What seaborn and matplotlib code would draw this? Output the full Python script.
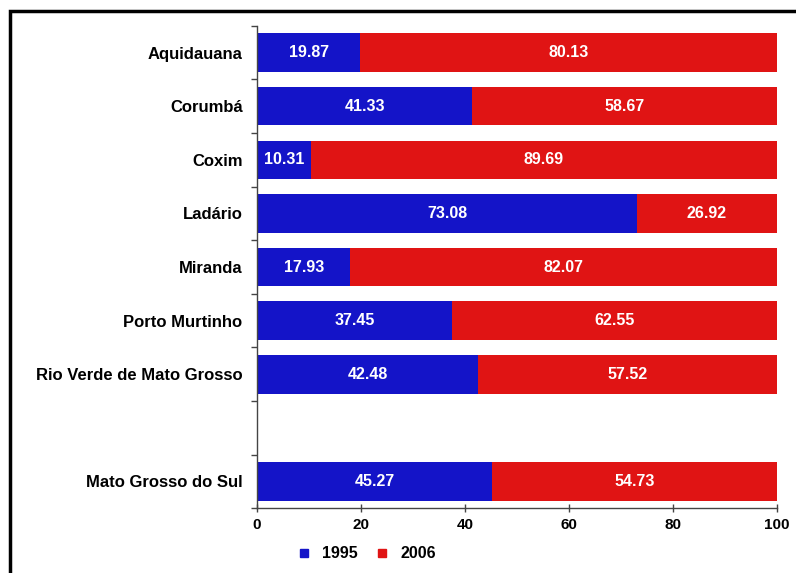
import pandas as pd
import seaborn as sns
import matplotlib.pyplot as plt
from matplotlib.patches import Rectangle
from matplotlib.lines import Line2D

# data
municipios = ['Aquidauana', 'Corumbá', 'Coxim', 'Ladário', 'Miranda',
              'Porto Murtinho', 'Rio Verde de Mato Grosso', 'Mato Grosso do Sul']
v1995 = [19.87, 41.33, 10.31, 73.08, 17.93, 37.45, 42.48, 45.27]
v2006 = [80.13, 58.67, 89.69, 26.92, 82.07, 62.55, 57.52, 54.73]
anos = ['1995', '2006']

# empty slot before the state total
ordem = municipios[:-1] + [' '] + municipios[-1:]

df = pd.DataFrame({'municipio': municipios, '1995': v1995, '2006': v2006})
df['total'] = df['1995'] + df['2006']

azul = '#1414C8'
vermelho = '#E01414'

sns.set_style('white')
plt.rcParams['font.family'] = ['Liberation Sans', 'DejaVu Sans']
plt.rcParams['font.weight'] = 'bold'
plt.rcParams['text.color'] = 'black'
plt.rcParams['xtick.color'] = 'black'
plt.rcParams['ytick.color'] = 'black'

fig = plt.figure(figsize=(7.96, 5.73), dpi=100)
ax = fig.add_axes([0.323, 0.113, 0.653, 0.842])

sns.barplot(data=df, x='total', y='municipio', order=ordem, color=vermelho,
            width=0.72, saturation=1, ax=ax, orient='h', linewidth=0)
sns.barplot(data=df, x='1995', y='municipio', order=ordem, color=azul,
            width=0.72, saturation=1, ax=ax, orient='h', linewidth=0)

# labels inside the segments
pos = {m: i for i, m in enumerate(ordem)}
for _, r in df.iterrows():
    y = pos[r['municipio']]
    ax.text(r['1995'] / 2, y, f"{r['1995']:.2f}", ha='center', va='center',
            color='white', fontsize=11.5, fontweight='bold')
    ax.text(r['1995'] + r['2006'] / 2, y, f"{r['2006']:.2f}", ha='center',
            va='center', color='white', fontsize=11.5, fontweight='bold')

ax.set_xlim(0, 100)
ax.set_ylim(len(ordem) - 0.5, -0.5)
ax.set_xticks([0, 20, 40, 60, 80, 100])
ax.set_xlabel('')
ax.set_ylabel('')
ax.tick_params(axis='x', bottom=True, direction='inout', length=6, width=1,
               color='#444444', labelsize=11, pad=4)
ax.tick_params(axis='y', which='major', left=False, labelsize=12, pad=7)
ax.set_yticks([i + 0.5 for i in range(-1, len(ordem))], minor=True)
ax.tick_params(axis='y', which='minor', left=True, direction='out', length=4,
               width=1, color='#444444')
for lbl in ax.get_xticklabels() + ax.get_yticklabels():
    lbl.set_fontweight('bold')

for s in ['top', 'right']:
    ax.spines[s].set_visible(False)
for s in ['left', 'bottom']:
    ax.spines[s].set_color('#444444')
    ax.spines[s].set_linewidth(1)

handles = [Line2D([], [], marker='s', linestyle='', color=azul, markersize=6),
           Line2D([], [], marker='s', linestyle='', color=vermelho, markersize=6)]
fig.legend(handles, anos, loc='lower center', bbox_to_anchor=(0.455, -0.005), ncol=2,
           frameon=False, handletextpad=0.15, columnspacing=0.5,
           prop={'size': 11.5, 'weight': 'bold'})

# outer frame
fig.patches.append(Rectangle((0.012, -0.01), 1.0, 0.99, transform=fig.transFigure,
                             fill=False, edgecolor='black', linewidth=2.5))

fig.savefig('out.png', dpi=100)
